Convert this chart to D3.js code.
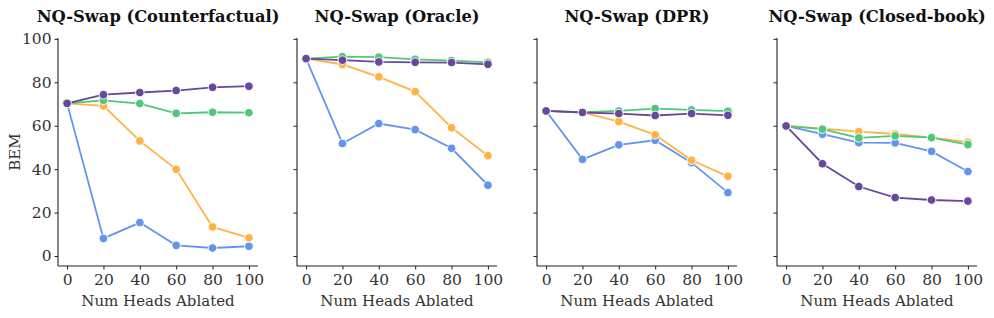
<!DOCTYPE html>
<html>
<head>
<meta charset="utf-8">
<script src="https://cdn.jsdelivr.net/npm/d3@7"></script>
<style>
  body { margin: 0; background: #fff; }
</style>
</head>
<body>
<div id="chart"></div>
<script>
// x values shared by every panel
const heads = [0, 20, 40, 60, 80, 100];

const titles = ["NQ-Swap (Counterfactual)", "NQ-Swap (Oracle)", "NQ-Swap (DPR)", "NQ-Swap (Closed-book)"];
const seriesNames = ["blue", "orange", "green", "purple"];
const seriesColors = ["#6495ed", "#ffb347", "#50c878", "#67489a"];

// BEM per panel, per series (order = seriesNames)
const counterfactual = [
  [70.3, 8.1, 15.4, 4.9, 3.7, 4.5],
  [70.3, 69.1, 53.0, 39.9, 13.4, 8.4],
  [70.3, 71.7, 70.2, 65.7, 66.2, 66.0],
  [70.3, 74.3, 75.3, 76.2, 77.7, 78.2]
];
const oracle = [
  [90.9, 51.8, 61.0, 58.2, 49.6, 32.6],
  [90.9, 88.2, 82.5, 75.7, 59.1, 46.2],
  [90.9, 91.8, 91.6, 90.6, 90.0, 89.2],
  [90.9, 90.2, 89.4, 89.2, 89.1, 88.3]
];
const dpr = [
  [66.8, 44.5, 51.2, 53.3, 43.0, 29.2],
  [66.8, 66.1, 61.9, 55.8, 44.1, 36.7],
  [66.8, 66.2, 66.8, 67.9, 67.3, 66.7],
  [66.8, 66.1, 65.6, 64.7, 65.6, 64.8]
];
const closedBook = [
  [59.9, 56.1, 52.2, 52.1, 48.2, 38.9],
  [59.9, 58.7, 57.3, 56.2, 54.5, 52.4],
  [59.9, 58.4, 54.4, 55.3, 54.5, 51.3],
  [59.9, 42.5, 32.0, 26.9, 25.8, 25.3]
];
const panels = [counterfactual, oracle, dpr, closedBook];

const yTicks = [0, 20, 40, 60, 80, 100];

const W = 994, H = 318;
const panelLeft = [58, 297, 537, 777], panelW = 200;
const plotTop = 38, plotBottom = 266;
const serif = "'DejaVu Serif', 'Liberation Serif', serif";

const svg = d3.select("#chart").append("svg")
  .attr("width", W).attr("height", H);

const y = d3.scaleLinear().domain([-4.6, 100.4]).range([plotBottom, plotTop]);

panels.forEach((data, i) => {
  const x = d3.scaleLinear().domain([-5, 105]).range([0, panelW]);
  const g = svg.append("g").attr("transform", `translate(${panelLeft[i]},0)`);

  // axes
  const yAxis = g.append("g")
    .call(d3.axisLeft(y).tickValues(yTicks).tickSize(3.5).tickPadding(3)
      .tickFormat(i === 0 ? d3.format("d") : ""));
  const xAxis = g.append("g").attr("transform", `translate(0,${plotBottom})`)
    .call(d3.axisBottom(x).tickValues(heads).tickSize(3.5).tickPadding(4).tickFormat(d3.format("d")));
  [yAxis, xAxis].forEach(a => {
    a.attr("font-family", null).attr("font-size", null);
    a.select(".domain").attr("stroke", "#222").attr("stroke-width", 1.1);
    a.selectAll(".tick line").attr("stroke", "#222").attr("stroke-width", 1);
    a.selectAll("text")
      .style("font-family", serif)
      .style("font-size", "15.5px").attr("fill", "#333");
  });
  xAxis.select(".domain").attr("d", `M0,0H${panelW}`);
  yAxis.select(".domain").attr("d", `M0,${plotBottom}V${plotTop}`);

  // title
  g.append("text")
    .attr("x", panelW / 2).attr("y", 22)
    .attr("text-anchor", "middle")
    .style("font-family", serif)
    .style("font-size", "16.3px").style("font-weight", "bold")
    .attr("fill", "#111")
    .text(titles[i]);

  // x label
  g.append("text")
    .attr("x", panelW / 2).attr("y", 306)
    .attr("text-anchor", "middle")
    .style("font-family", serif)
    .style("font-size", "15px")
    .attr("fill", "#333")
    .text("Num Heads Ablated");

  if (i === 0) {
    g.append("text")
      .attr("transform", `translate(${-38},${(plotTop + plotBottom) / 2}) rotate(-90)`)
      .attr("text-anchor", "middle")
      .style("font-family", serif)
      .style("font-size", "15px")
      .attr("fill", "#333")
      .text("BEM");
  }

  const line = d3.line().x((d, k) => x(heads[k])).y(d => y(d));

  data.forEach((vals, s) => {
    g.append("path")
      .datum(vals)
      .attr("fill", "none")
      .attr("stroke", seriesColors[s])
      .attr("stroke-width", 1.8)
      .attr("d", line);
    g.selectAll(null)
      .data(vals)
      .enter()
      .append("circle")
      .attr("cx", (d, k) => x(heads[k]))
      .attr("cy", d => y(d))
      .attr("r", 4.3)
      .attr("fill", seriesColors[s])
      .attr("stroke", "#fff")
      .attr("stroke-width", 0.9);
  });
});
</script>
</body>
</html>
